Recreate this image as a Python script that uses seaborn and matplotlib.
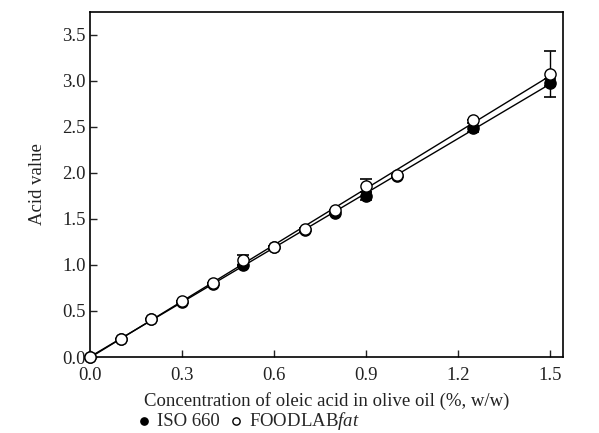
import numpy as np
import pandas as pd
import seaborn as sns
import matplotlib.pyplot as plt

sns.set_style("ticks")
plt.rcParams['font.family'] = ['Liberation Serif', 'DejaVu Serif']
plt.rcParams['mathtext.fontset'] = 'custom'
plt.rcParams['mathtext.it'] = 'Liberation Serif:italic'
plt.rcParams['mathtext.rm'] = 'Liberation Serif'

# Data
conc = [0.0, 0.1, 0.2, 0.3, 0.4, 0.5, 0.6, 0.7, 0.8, 0.9, 1.0, 1.25, 1.5]
iso660 = [0.0, 0.2, 0.41, 0.6, 0.79, 1.0, 1.19, 1.38, 1.57, 1.75, 1.97, 2.49, 2.98]
iso_err = [0.0, 0.0, 0.0, 0.0, 0.0, 0.0, 0.02, 0.02, 0.02, 0.04, 0.0, 0.05, 0.04]
foodlab = [0.0, 0.2, 0.41, 0.61, 0.8, 1.05, 1.2, 1.39, 1.6, 1.86, 1.98, 2.58, 3.07]
foodlab_err = [0.0, 0.0, 0.0, 0.0, 0.0, 0.06, 0.0, 0.0, 0.0, 0.07, 0.0, 0.0, 0.25]

df = pd.DataFrame({'conc': conc, 'iso': iso660, 'iso_err': iso_err,
                   'food': foodlab, 'food_err': foodlab_err})

fig = plt.figure(figsize=(5.99, 4.33), dpi=100)
ax = fig.add_axes([0.150, 0.1755, 0.790, 0.797])

# regression lines
sns.regplot(x='conc', y='iso', data=df, ci=None, scatter=False, truncate=True,
            line_kws={'color': 'black', 'lw': 1.0}, ax=ax)
sns.regplot(x='conc', y='food', data=df, ci=None, scatter=False, truncate=True,
            line_kws={'color': 'black', 'lw': 1.0}, ax=ax)

# error bars
ax.errorbar(df['conc'], df['iso'], yerr=df['iso_err'], fmt='none', ecolor='black',
            elinewidth=1.0, capsize=4, capthick=1.2, zorder=3)
ax.errorbar(df['conc'], df['food'], yerr=df['food_err'], fmt='none', ecolor='black',
            elinewidth=1.0, capsize=4, capthick=1.2, zorder=3)

# markers
sns.scatterplot(x='conc', y='iso', data=df, marker='o', s=65, color='black',
                edgecolor='black', linewidth=1.0, ax=ax, zorder=4, label='ISO 660')
sns.scatterplot(x='conc', y='food', data=df, marker='o', s=65, facecolor='white',
                edgecolor='black', linewidth=1.0, ax=ax, zorder=5,
                label='FOODLAB$\\mathit{fat}$')
for coll in ax.collections:
    coll.set_clip_on(False)

ax.set_xlim(0, 1.542)
ax.set_ylim(0, 3.75)
ax.set_xticks([0.0, 0.3, 0.6, 0.9, 1.2, 1.5])
ax.set_yticks([0.0, 0.5, 1.0, 1.5, 2.0, 2.5, 3.0, 3.5])
ax.xaxis.set_major_formatter(plt.FormatStrFormatter('%.1f'))
ax.yaxis.set_major_formatter(plt.FormatStrFormatter('%.1f'))
ax.tick_params(direction='in', length=5, width=1.0, labelsize=13.5, colors='#222222',
               top=False, right=False)
ax.tick_params(axis='x', pad=7)
ax.tick_params(axis='y', pad=3)
for s in ax.spines.values():
    s.set_linewidth(1.2)
    s.set_color('black')

ax.set_xlabel('Concentration of oleic acid in olive oil (%, w/w)', fontsize=13.5,
              labelpad=6, color='#222222')
ax.set_ylabel('Acid value', fontsize=13.5, labelpad=12, color='#222222')

handles, labels = ax.get_legend_handles_labels()
if ax.legend_:
    ax.legend_.remove()
fig.legend(handles, labels, loc='center left', bbox_to_anchor=(0.228, 0.028), ncol=2,
           frameon=False, fontsize=13.5, handletextpad=0.3, columnspacing=0.45,
           borderaxespad=0, borderpad=0, markerscale=0.65, handlelength=0.8)

fig.savefig('out.png', dpi=100)
